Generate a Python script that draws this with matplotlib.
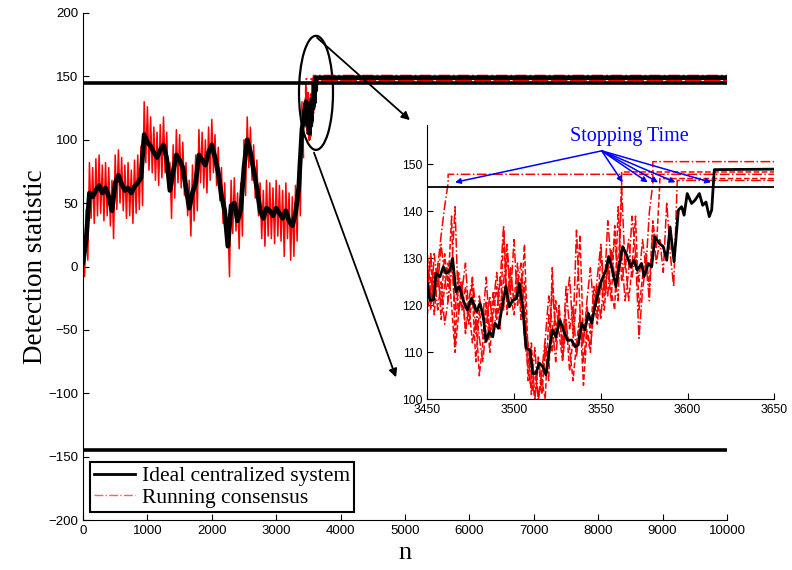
import numpy as np
import matplotlib
matplotlib.use("Agg")
import matplotlib.pyplot as plt
from matplotlib.patches import Ellipse

# ---- data ----
# ideal centralized statistic, coarse (n = 0, 50, ..., 3400)
black_coarse = [3, 22, 58, 55, 60, 64, 58, 62, 55, 44, 66, 72, 65, 60, 62, 58, 63, 66, 70,
                104, 98, 95, 90, 86, 92, 96, 85, 60, 75, 88, 84, 78, 62, 46, 58, 66, 88, 84,
                80, 90, 96, 86, 74, 56, 44, 16, 48, 50, 36, 45, 78, 100, 90, 76, 62, 44, 38,
                46, 44, 40, 46, 42, 38, 44, 36, 32, 42, 62, 108]
# running consensus spread (upper / lower), same n grid
red_hi = [15, 45, 82, 78, 85, 88, 80, 82, 78, 68, 88, 92, 86, 80, 82, 76, 84, 88, 95,
          130, 126, 118, 110, 106, 112, 118, 106, 82, 96, 108, 104, 98, 82, 68, 80, 88, 108,
          106, 100, 110, 116, 104, 94, 78, 66, 38, 68, 70, 58, 66, 100, 118, 110, 96, 84,
          66, 60, 68, 66, 62, 68, 64, 60, 66, 58, 55, 64, 85, 130]
red_lo = [-8, 5, 38, 34, 40, 42, 36, 40, 32, 22, 45, 50, 44, 38, 40, 34, 42, 45, 48,
          82, 76, 74, 68, 64, 70, 74, 62, 38, 54, 66, 62, 56, 40, 24, 36, 44, 66, 62, 58,
          68, 74, 64, 52, 34, 22, -8, 26, 28, 14, 24, 56, 78, 68, 54, 40, 22, 16, 24, 22,
          18, 24, 20, 8, 22, 5, 8, 20, 40, 86]

# ideal statistic, fine (zoomed window)
black_n = [3450, 3451.5, 3453.5, 3455, 3457.3, 3459.2, 3461, 3463, 3464.6, 3466.5, 3468.4,
           3470.7, 3473, 3475.5, 3478.4, 3480.4, 3482.3, 3483.8, 3485.7, 3487.7, 3489, 3491,
           3492.8, 3495.3, 3497.3, 3499.2, 3501.5, 3503, 3505, 3506.9, 3509.2, 3510.7,
           3512.6, 3514.5, 3516.5, 3518.4, 3520.3, 3522.2, 3524.1, 3526.4, 3528.4, 3530.7,
           3533.2, 3535.1, 3537, 3539, 3540.9, 3542.8, 3544.7, 3546.6, 3548.6, 3550.5, 3553,
           3554.5, 3556.4, 3558.7, 3560.1, 3562.6, 3564.9, 3567.2, 3569.1, 3571, 3573.5,
           3574.9, 3577.4, 3579.3, 3581.2, 3583.7, 3586, 3588, 3589.9, 3592.2, 3594.7,
           3596.6, 3598, 3599.8, 3602.3, 3604.3, 3606.8, 3608.7, 3610.6, 3612.5, 3613.9,
           3615.4]
black_v = [124.7, 121.1, 121.1, 126.8, 126.1, 128.2, 126.8, 127.5, 130, 122.9, 124, 121.1,
           119, 121.5, 118.7, 120.4, 117.6, 112.3, 114.4, 113.3, 116.2, 115.1, 119, 124,
           119.7, 121.1, 121.5, 124.7, 119.7, 110.9, 110.5, 105.5, 105.5, 107.7, 107, 105.2,
           110.5, 114.8, 113.3, 116.9, 114.8, 112.6, 112.6, 111.2, 111.6, 116.2, 114.8,
           118.3, 116.2, 119.7, 122.9, 125.4, 127.5, 130.4, 127.9, 124, 127.5, 132.5, 130.7,
           128.2, 129.6, 127.5, 128.9, 126.1, 128.9, 128.2, 134.6, 133.2, 132.5, 129.6,
           136.7, 129.3, 140.3, 141, 139.2, 143.8, 141.7, 142.4, 143.8, 141.3, 142, 138.9,
           140.3, 148.9]
black_final = 149.0
threshold = 145.3

# running consensus at individual sensors (n = 3450, 3452, ...), final level after stopping
sensor_a = [124, 131, 122, 128, 135, 141, 146]
sensor_b = [122, 130, 118, 127, 120, 131, 124, 139, 112, 126, 119, 124, 116, 122, 108, 119,
            113, 121, 110, 118, 124, 115, 136, 118, 127, 121, 129, 117, 125, 104, 112, 100,
            108, 101, 110, 104, 128, 112, 120, 109, 117, 106, 113, 121, 135, 112, 120, 114,
            124, 118, 131, 122, 128, 121, 137, 126, 146]
sensor_c = [128, 119, 131, 124, 133, 126, 121, 130, 119, 127, 123, 129, 118, 125, 114, 122,
            117, 126, 113, 120, 127, 119, 125, 133, 122, 134, 120, 126, 113, 107, 102, 111,
            100, 106, 113, 122, 116, 108, 119, 111, 124, 115, 120, 109, 117, 112, 121, 128,
            119, 126, 133, 123, 138, 129, 134, 126, 131, 121, 127, 139, 131, 125, 134, 128,
            140, 146]
sensor_d = [118, 126, 121, 129, 117, 124, 129, 120, 110, 118, 125, 114, 120, 112, 117, 105,
            112, 120, 115, 123, 117, 126, 119, 131, 122, 118, 126, 120, 133, 110, 101, 106,
            100, 104, 100, 118, 110, 121, 114, 108, 116, 111, 104, 112, 118, 103, 114, 110,
            121, 116, 125, 119, 129, 123, 119, 141, 125, 130, 121, 128, 139, 119, 126, 131,
            124, 138, 132, 146]
sensor_e = [131, 122, 127, 119, 125, 116, 121, 127, 141, 118, 124, 115, 121, 126, 119, 113,
            108, 116, 122, 114, 119, 125, 137, 121, 128, 120, 124, 129, 118, 112, 105, 100,
            109, 103, 112, 107, 124, 115, 118, 112, 120, 126, 114, 136, 119, 108, 115, 111,
            119, 124, 117, 127, 122, 132, 126, 121, 145, 128, 134, 126, 131, 113, 123, 129,
            121, 137, 129, 134, 127, 142, 131, 124, 146]
sensors = [(sensor_a, 147.9, "-."), (sensor_b, 148.4, "--"), (sensor_c, 150.6, "-."),
           (sensor_d, 147.0, "--"), (sensor_e, 146.6, "-.")]
stop_times = [3466, 3562.6, 3577, 3583, 3593, 3613.5]

plt.rcParams["font.family"] = ["Liberation Sans", "DejaVu Sans"]
serif = ["Liberation Serif", "DejaVu Serif"]

fig = plt.figure(figsize=(7.92, 5.70), dpi=100)
ax = fig.add_axes([0.1048, 0.0877, 0.8131, 0.8895])

n_coarse = 50 * np.arange(len(black_coarse))
# consensus spread drawn as a line alternating between upper and lower readings
zig_n = np.ravel(np.column_stack([n_coarse, n_coarse + 25]))
zig_v = np.ravel(np.column_stack([red_hi, red_lo]))
ax.plot(zig_n, zig_v, "-", color="red", lw=1.1)

def sensor_xy(vals, level, xend):
    n = 3450 + 2 * np.arange(len(vals))
    return np.r_[n, n[-1], xend], np.r_[vals, level, level]

for vals, level, ls in sensors:
    x, y = sensor_xy(vals, level, 10000)
    ax.plot(x, y, ls, color="red", lw=1.3)

ax.plot(np.r_[n_coarse, black_n, 10000], np.r_[black_coarse, black_v, black_final],
        color="black", lw=3.4)
ax.axhline(145, color="black", lw=2.6)
ax.axhline(-145, color="black", lw=2.6)

# legend proxies
ax.plot([], [], color="black", lw=2, label="Ideal centralized system")
ax.plot([], [], "-.", color="#ff6060", lw=1, label="Running consensus")
handles, labels = ax.get_legend_handles_labels()
leg = ax.legend(handles[-2:], labels[-2:], loc="lower left", bbox_to_anchor=(0.011, 0.016),
                prop={"family": serif, "size": 15.5}, fancybox=False, framealpha=1,
                edgecolor="black", borderpad=0.2, handlelength=1.9, labelspacing=0.05,
                handletextpad=0.3, borderaxespad=0)
leg.get_frame().set_linewidth(1.5)

ax.set_xlim(0, 10000)
ax.set_ylim(-200, 200)
ax.set_xticks(np.arange(0, 10001, 1000))
ax.set_yticks(np.arange(-200, 201, 50))
ax.tick_params(direction="in", labelsize=9.5, length=4)
for s in ["top", "right"]:
    ax.spines[s].set_visible(False)
ax.set_xlabel("n", family=serif, fontsize=19, labelpad=4)
ax.set_ylabel("Detection statistic", family=serif, fontsize=19.5, labelpad=0)

ax.add_patch(Ellipse((3618, 137), 528, 90, fill=False, color="black", lw=1.6))
arrow = dict(arrowstyle="-|>", color="black", lw=1.3, mutation_scale=12)
ax.annotate("", xy=(5109, 114), xytext=(3603, 181.9), arrowprops=arrow, annotation_clip=False)
ax.annotate("", xy=(4876, -89.5), xytext=(3572, 91.9), arrowprops=arrow, annotation_clip=False)

# ---- zoomed inset ----
ins = fig.add_axes([0.5395, 0.2995, 0.4382, 0.4812])
for vals, level, ls in sensors:
    x, y = sensor_xy(vals, level, 3650)
    ins.plot(x, y, ls, color="red", lw=1.1)
ins.axhline(threshold, color="black", lw=1.3)
ins.plot(np.r_[black_n, 3650], np.r_[black_v, black_final], color="black", lw=2)
ins.set_xlim(3450, 3650)
ins.set_ylim(100, 158.4)
ins.set_xticks(np.arange(3450, 3651, 50))
ins.set_yticks(np.arange(100, 151, 10))
ins.tick_params(direction="in", labelsize=8.8, length=4)
for s in ["top", "right"]:
    ins.spines[s].set_visible(False)

ins.text(3566.3, 156, "Stopping Time", color="blue", family=serif, fontsize=14.5,
         ha="center", va="center")
blue = dict(arrowstyle="-|>", color="blue", lw=1.1, mutation_scale=8, shrinkA=0, shrinkB=0)
for st in stop_times:
    ins.annotate("", xy=(st, 146.2), xytext=(3550.5, 152.9), arrowprops=blue)

fig.savefig("out.png", dpi=100)
